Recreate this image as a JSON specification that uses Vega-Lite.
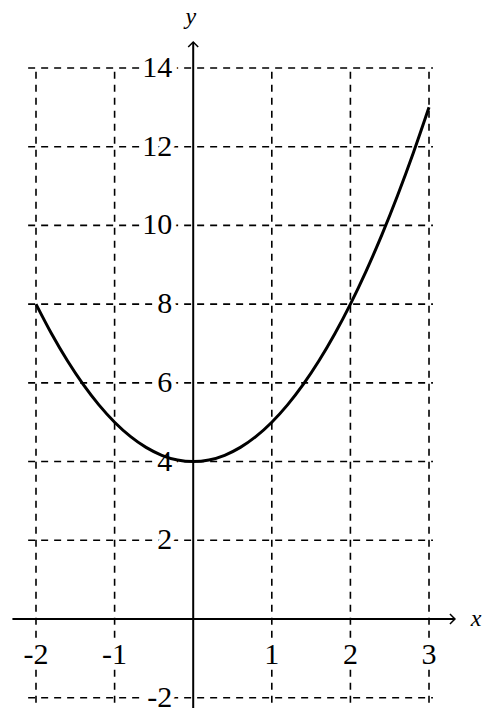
{
  "$schema": "https://vega.github.io/schema/vega-lite/v6.json",
  "width": 497,
  "height": 723,
  "padding": 0,
  "autosize": {"type": "fit", "contains": "padding"},
  "background": "white",
  "config": {"view": {"stroke": null}},
  "datasets": {
    "gridv": [{"x": -2}, {"x": -1}, {"x": 1}, {"x": 2}, {"x": 3}],
    "gridh": [{"y": -2}, {"y": 2}, {"y": 4}, {"y": 6}, {"y": 8}, {"y": 10}, {"y": 12}, {"y": 14}],
    "curve": [
      {"x": -2.0, "y": 8}, {"x": -1.8, "y": 7.24}, {"x": -1.6, "y": 6.56}, {"x": -1.4, "y": 5.96},
      {"x": -1.2, "y": 5.44}, {"x": -1.0, "y": 5}, {"x": -0.8, "y": 4.64}, {"x": -0.6, "y": 4.36},
      {"x": -0.4, "y": 4.16}, {"x": -0.2, "y": 4.04}, {"x": 0, "y": 4}, {"x": 0.2, "y": 4.04},
      {"x": 0.4, "y": 4.16}, {"x": 0.6, "y": 4.36}, {"x": 0.8, "y": 4.64}, {"x": 1.0, "y": 5},
      {"x": 1.2, "y": 5.44}, {"x": 1.4, "y": 5.96}, {"x": 1.6, "y": 6.56}, {"x": 1.8, "y": 7.24},
      {"x": 2.0, "y": 8}, {"x": 2.2, "y": 8.84}, {"x": 2.4, "y": 9.76}, {"x": 2.6, "y": 10.76},
      {"x": 2.8, "y": 11.84}, {"x": 3.0, "y": 13}
    ],
    "xlabels": [{"x": -2, "label": "-2"}, {"x": -1, "label": "-1"}, {"x": 1, "label": "1"}, {"x": 2, "label": "2"}, {"x": 3, "label": "3"}],
    "ylabels": [{"y": -2, "label": "-2"}, {"y": 2, "label": "2"}, {"y": 4, "label": "4"}, {"y": 6, "label": "6"}, {"y": 8, "label": "8"}, {"y": 10, "label": "10"}, {"y": 12, "label": "12"}, {"y": 14, "label": "14"}],
    "names": [{"x": 3.6, "y": 0, "label": "x"}, {"x": -0.03, "y": 15.3, "label": "y"}],
    "one": [{"id": 1}]
  },
  "layer": [
    {
      "data": {"name": "gridv"},
      "mark": {"type": "rule", "stroke": "black", "strokeWidth": 1.6, "strokeDash": [7, 6]},
      "encoding": {
        "x": {"field": "x", "type": "quantitative", "scale": {"domain": [-2.458, 3.865], "nice": false, "zero": false}, "axis": null},
        "y": {"datum": -2.13, "type": "quantitative", "scale": {"domain": [-2.642, 15.727], "nice": false, "zero": false}, "axis": null},
        "y2": {"datum": 14}
      }
    },
    {
      "data": {"name": "gridh"},
      "mark": {"type": "rule", "stroke": "black", "strokeWidth": 1.6, "strokeDash": [7, 6]},
      "encoding": {
        "y": {"field": "y", "type": "quantitative"},
        "x": {"datum": -2.1, "type": "quantitative"},
        "x2": {"datum": 3.05}
      }
    },
    {
      "data": {"name": "xlabels"},
      "mark": {"type": "text", "font": "Liberation Serif", "fontSize": 30, "baseline": "middle", "align": "center", "stroke": "white", "strokeWidth": 10},
      "encoding": {
        "x": {"field": "x", "type": "quantitative"},
        "y": {"datum": -0.92, "type": "quantitative"},
        "text": {"field": "label"}
      }
    },
    {
      "data": {"name": "xlabels"},
      "mark": {"type": "text", "font": "Liberation Serif", "fontSize": 30, "baseline": "middle", "align": "center", "fill": "black"},
      "encoding": {
        "x": {"field": "x", "type": "quantitative"},
        "y": {"datum": -0.92, "type": "quantitative"},
        "text": {"field": "label"}
      }
    },
    {
      "data": {"name": "ylabels"},
      "mark": {"type": "text", "font": "Liberation Serif", "fontSize": 30, "baseline": "middle", "align": "right", "dx": -21, "stroke": "white", "strokeWidth": 10},
      "encoding": {
        "x": {"datum": 0, "type": "quantitative"},
        "y": {"field": "y", "type": "quantitative"},
        "text": {"field": "label"}
      }
    },
    {
      "data": {"name": "ylabels"},
      "mark": {"type": "text", "font": "Liberation Serif", "fontSize": 30, "baseline": "middle", "align": "right", "dx": -21, "fill": "black"},
      "encoding": {
        "x": {"datum": 0, "type": "quantitative"},
        "y": {"field": "y", "type": "quantitative"},
        "text": {"field": "label"}
      }
    },
    {
      "data": {"name": "one"},
      "mark": {"type": "rule", "stroke": "black", "strokeWidth": 2},
      "encoding": {
        "x": {"datum": -2.3, "type": "quantitative"},
        "x2": {"datum": 3.33},
        "y": {"datum": 0, "type": "quantitative"}
      }
    },
    {
      "data": {"name": "one"},
      "mark": {"type": "rule", "stroke": "black", "strokeWidth": 2},
      "encoding": {
        "y": {"datum": -2.26, "type": "quantitative"},
        "y2": {"datum": 14.66},
        "x": {"datum": 0, "type": "quantitative"}
      }
    },
    {
      "data": {"name": "one"},
      "mark": {"type": "point", "shape": "M-1,-1L0,0L-1,1", "filled": false, "stroke": "black", "strokeWidth": 1.5, "size": 100, "opacity": 1},
      "encoding": {
        "x": {"datum": 3.33, "type": "quantitative"},
        "y": {"datum": 0, "type": "quantitative"}
      }
    },
    {
      "data": {"name": "one"},
      "mark": {"type": "point", "shape": "M-1,1L0,0L1,1", "filled": false, "stroke": "black", "strokeWidth": 1.5, "size": 100, "opacity": 1},
      "encoding": {
        "x": {"datum": 0, "type": "quantitative"},
        "y": {"datum": 14.66, "type": "quantitative"}
      }
    },
    {
      "data": {"name": "curve"},
      "mark": {"type": "line", "stroke": "black", "strokeWidth": 3, "interpolate": "monotone"},
      "encoding": {
        "x": {"field": "x", "type": "quantitative"},
        "y": {"field": "y", "type": "quantitative"}
      }
    },
    {
      "data": {"name": "names"},
      "mark": {"type": "text", "font": "Liberation Serif", "fontStyle": "italic", "fontSize": 24, "baseline": "middle", "align": "center", "fill": "black"},
      "encoding": {
        "x": {"field": "x", "type": "quantitative"},
        "y": {"field": "y", "type": "quantitative"},
        "text": {"field": "label"}
      }
    }
  ]
}
